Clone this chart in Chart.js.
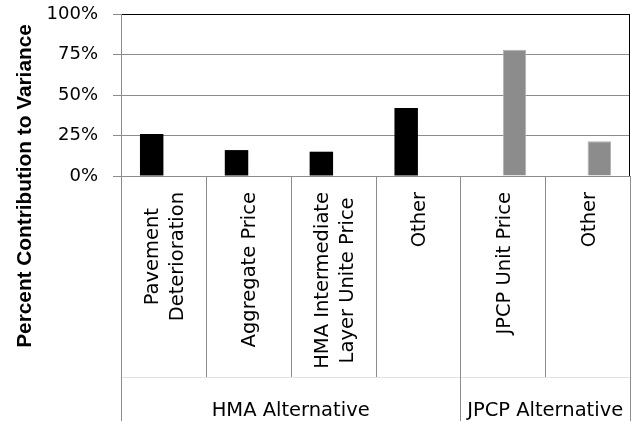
<!DOCTYPE html>
<html lang="en">
<head>
    <meta charset="UTF-8">
    <title>Percent Contribution to Variance</title>
    <script src="https://cdn.jsdelivr.net/npm/chart.js"></script>
    <style>
        body { margin: 0; background: #fff; }
        #chartContainer { width: 631px; height: 421px; }
    </style>
</head>
<body>
    <div id="chartContainer">
        <canvas id="myChart" width="631" height="421"></canvas>
    </div>
    <script>
        // Chart data
        const categories = [
            ['Pavement', 'Deterioration'],
            ['Aggregate Price'],
            ['HMA Intermediate', 'Layer Unite Price'],
            ['Other'],
            ['JPCP Unit Price'],
            ['Other']
        ];
        const groups = ['HMA Alternative', 'JPCP Alternative'];
        const groupSizes = [4, 2];
        const hmaValues = [26, 16, 15, 42, null, null];
        const jpcpValues = [null, null, null, null, 78, 21.5];
        const yTicks = [0, 25, 50, 75, 100];
        const yTitle = 'Percent Contribution to Variance';

        const gridGray = '#8c8c8c';
        const labelFont = '19.5px "DejaVu Sans"';

        // Draws the two-level category axis, the right border and the y title
        const axisPlugin = {
            id: 'axisPlugin',
            afterDraw(chart) {
                const ctx = chart.ctx;
                const area = chart.chartArea;
                const x = chart.scales.x;
                const half = (x.getPixelForValue(1) - x.getPixelForValue(0)) / 2;
                const innerBottom = 377;
                const bottom = chart.height;

                ctx.save();
                // faint line between the two levels
                ctx.strokeStyle = '#e3e3e3';
                ctx.lineWidth = 1;
                ctx.beginPath();
                ctx.moveTo(area.left, innerBottom + 0.5);
                ctx.lineTo(area.right, innerBottom + 0.5);
                ctx.stroke();

                // dividers
                ctx.strokeStyle = gridGray;
                const outer = [0];
                let acc = 0;
                groupSizes.forEach(n => { acc += n; outer.push(acc); });
                for (let i = 0; i <= categories.length; i++) {
                    const px = Math.round(x.getPixelForValue(i) - half) + 0.5;
                    const isOuter = outer.includes(i);
                    ctx.beginPath();
                    ctx.moveTo(px, area.bottom);
                    ctx.lineTo(px, isOuter ? bottom : innerBottom);
                    ctx.stroke();
                }

                // right border of the plot
                ctx.strokeStyle = '#000';
                ctx.beginPath();
                ctx.moveTo(area.right - 0.5, area.top);
                ctx.lineTo(area.right - 0.5, area.bottom);
                ctx.stroke();

                // rotated category labels
                ctx.fillStyle = '#000';
                ctx.font = labelFont;
                ctx.textAlign = 'center';
                ctx.textBaseline = 'middle';
                const lineGap = 25;
                categories.forEach((lines, i) => {
                    const cx = x.getPixelForValue(i) + 2;
                    const maxW = Math.max(...lines.map(l => ctx.measureText(l).width));
                    const cy = 192 + maxW / 2;
                    ctx.save();
                    ctx.translate(cx, cy);
                    ctx.rotate(-Math.PI / 2);
                    lines.forEach((l, j) => {
                        const off = (j - (lines.length - 1) / 2) * lineGap;
                        ctx.fillText(l, 0, off);
                    });
                    ctx.restore();
                });

                // group labels
                ctx.textBaseline = 'alphabetic';
                let start = 0;
                groups.forEach((g, k) => {
                    const end = start + groupSizes[k];
                    const l = x.getPixelForValue(start) - half;
                    const r = x.getPixelForValue(end - 1) + half;
                    ctx.fillText(g, (l + r) / 2, 416);
                    start = end;
                });

                // y axis title
                ctx.font = 'bold 20.8px "Liberation Sans"';
                ctx.translate(25, 186);
                ctx.rotate(-Math.PI / 2);
                ctx.textBaseline = 'middle';
                ctx.fillText(yTitle, 0, 0);
                ctx.restore();
            }
        };

        const ctx = document.getElementById('myChart').getContext('2d');
        const myChart = new Chart(ctx, {
            type: 'bar',
            data: {
                labels: categories,
                datasets: [{
                    label: 'HMA',
                    data: hmaValues,
                    backgroundColor: '#000000',
                    borderWidth: 0
                }, {
                    label: 'JPCP',
                    data: jpcpValues,
                    backgroundColor: '#8c8c8c',
                    borderColor: '#b0b0b0',
                    borderWidth: 1
                }]
            },
            options: {
                responsive: false,
                animation: false,
                layout: {
                    padding: { top: 14, right: 1, bottom: 0, left: 0 }
                },
                plugins: {
                    legend: { display: false },
                    tooltip: { enabled: false }
                },
                datasets: {
                    bar: { categoryPercentage: 0.553, barPercentage: 1 }
                },
                scales: {
                    x: {
                        grid: { display: false },
                        ticks: { display: false },
                        border: { display: true, color: gridGray, width: 1 },
                        afterFit(scale) { scale.height = 245; }
                    },
                    y: {
                        min: 0,
                        max: 100,
                        afterBuildTicks(scale) {
                            scale.ticks = yTicks.map(v => ({ value: v }));
                        },
                        ticks: {
                            padding: 15,
                            color: '#000',
                            font: { family: 'DejaVu Sans', size: 18 },
                            callback: v => v + '%'
                        },
                        grid: {
                            color: c => c.tick && c.tick.value === 100 ? '#000' : gridGray,
                            tickColor: gridGray,
                            tickLength: 8,
                            lineWidth: 1
                        },
                        border: { display: true, color: gridGray, width: 1 },
                        afterFit(scale) {
                            scale.width = 121;
                            scale.paddingTop = 0;
                            scale.paddingBottom = 0;
                        }
                    }
                }
            },
            plugins: [axisPlugin]
        });
    </script>
</body>
</html>
